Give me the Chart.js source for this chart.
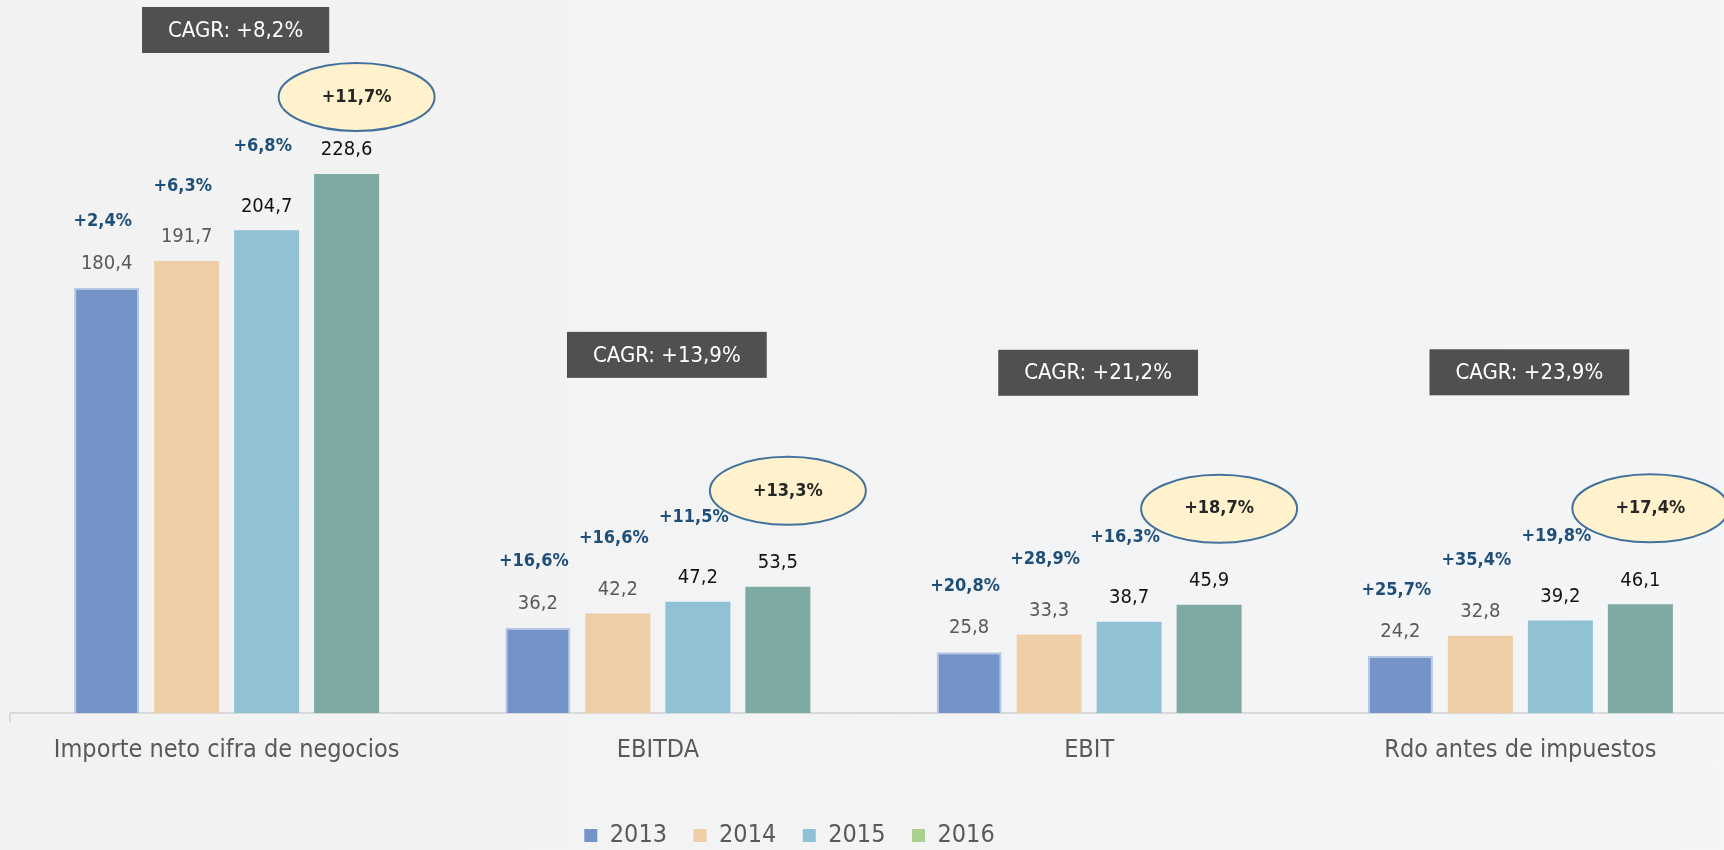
<!DOCTYPE html>
<html lang="es">
<head>
<meta charset="utf-8">
<title>Evolución 2013-2016</title>
<script src="https://cdn.jsdelivr.net/npm/chart.js@4"></script>
<style>
  html, body { margin: 0; padding: 0; overflow: hidden; }
  body { width: 1724px; height: 850px; background: linear-gradient(to right, #f2f2f2, #f4f5f7); }
  #wrap { position: relative; width: 1750px; height: 850px; }
</style>
</head>
<body>
<div id="wrap"><canvas id="chart"></canvas></div>
<script>
// Datos (millones de euros)
const categorias = ['Importe neto cifra de negocios', 'EBITDA', 'EBIT', 'Rdo antes de impuestos'];
const anios = ['2013', '2014', '2015', '2016'];
const valores2013 = [180.4, 36.2, 25.8, 24.2];
const valores2014 = [191.7, 42.2, 33.3, 32.8];
const valores2015 = [204.7, 47.2, 38.7, 39.2];
const valores2016 = [228.6, 53.5, 45.9, 46.1];

// Variación anual (%)
const crec2013 = [2.4, 16.6, 20.8, 25.7];
const crec2014 = [6.3, 16.6, 28.9, 35.4];
const crec2015 = [6.8, 11.5, 16.3, 19.8];
const crec2016 = [11.7, 13.3, 18.7, 17.4];
const cagr = [8.2, 13.9, 21.2, 23.9];

// Colores
const coloresBarra = ['#7493c6', '#eecea6', '#90c1d4', '#7fa9a3'];
const coloresLeyenda = ['#7493c6', '#eecea6', '#90c1d4', '#a9d18e'];
const coloresValor = ['#595959', '#595959', '#111111', '#111111'];
const FUENTE = "'DejaVu Sans Condensed', 'DejaVu Sans', sans-serif";

const fmt = (v) => v.toFixed(1).replace('.', ',');
const fmtPct = (v) => '+' + fmt(v) + '%';

const series = [valores2013, valores2014, valores2015, valores2016];
const crecimientos = [crec2013, crec2014, crec2015, crec2016];

// Mueve la leyenda para que quede bajo el centro del gráfico visible
const moverLeyenda = {
    id: 'moverLeyenda',
    afterLayout(chart) {
        const lg = chart.legend;
        lg.left -= 84;
        lg.right -= 84;
        lg.top += 9.5;
        lg.bottom += 9.5;
    }
};

// Etiquetas sobre las barras, óvalos y cajas CAGR
const anotaciones = {
    id: 'anotaciones',
    afterDatasetsDraw(chart) {
        const ctx = chart.ctx;
        const xScale = chart.scales.x;
        ctx.save();
        ctx.textAlign = 'center';
        ctx.textBaseline = 'middle';
        const subida = [66, 75, 84, 96];
        const ultima = chart.getDatasetMeta(3).data;

        // cajas CAGR
        const cajaY = categorias.map((c, j) => Math.max(30, ultima[j].y - 232));
        categorias.forEach((c, j) => {
            const cx = xScale.getPixelForValue(j) + 9;
            const cy = cajaY[j];
            const txt = 'CAGR: ' + fmtPct(cagr[j]);
            ctx.font = '22px ' + FUENTE;
            const w = ctx.measureText(txt).width + 52;
            ctx.fillStyle = '#505050';
            ctx.fillRect(cx - w / 2, cy - 23, w, 46);
            ctx.fillStyle = '#ffffff';
            ctx.fillText(txt, cx, cy + 1);
        });

        chart.data.datasets.forEach((ds, i) => {
            const meta = chart.getDatasetMeta(i);
            meta.data.forEach((bar, j) => {
                // valor
                ctx.font = '20px ' + FUENTE;
                ctx.fillStyle = coloresValor[i];
                ctx.fillText(fmt(ds.data[j]), bar.x, bar.y - 24);

                // crecimiento
                const txt = fmtPct(crecimientos[i][j]);
                if (i === 3) {
                    const cx = bar.x + 10;
                    const y = Math.max(cajaY[j] + 67, bar.y - subida[i]);
                    ctx.beginPath();
                    ctx.ellipse(cx, y, 78, 34, 0, 0, Math.PI * 2);
                    ctx.fillStyle = '#fff2cc';
                    ctx.fill();
                    ctx.lineWidth = 2;
                    ctx.strokeStyle = '#41719c';
                    ctx.stroke();
                    ctx.font = 'bold 18px ' + FUENTE;
                    ctx.fillStyle = '#262626';
                    ctx.fillText(txt, cx, y);
                } else {
                    ctx.font = 'bold 18px ' + FUENTE;
                    ctx.fillStyle = '#1f4e79';
                    ctx.fillText(txt, bar.x - 4, bar.y - subida[i]);
                }
            });
        });

        // pequeña marca del eje a la izquierda
        ctx.strokeStyle = '#d9d9d9';
        ctx.lineWidth = 2;
        ctx.beginPath();
        ctx.moveTo(chart.chartArea.left - 1, chart.chartArea.bottom);
        ctx.lineTo(chart.chartArea.left - 1, chart.chartArea.bottom + 9);
        ctx.stroke();
        ctx.restore();
    }
};

const initChart = () => {
    const ctx = document.getElementById('chart').getContext('2d');
    new Chart(ctx, {
        type: 'bar',
        data: {
            labels: categorias,
            datasets: series.map((s, i) => ({
                label: anios[i],
                data: s,
                backgroundColor: coloresBarra[i],
                borderColor: i === 0 ? '#b4c7e7' : coloresBarra[i],
                borderWidth: i === 0 ? 2 : 0,
                barPercentage: 0.8125,
                categoryPercentage: 0.742
            }))
        },
        options: {
            responsive: true,
            maintainAspectRatio: false,
            animation: false,
            layout: { padding: { left: 11, right: 14, top: 0, bottom: 1.5 } },
            plugins: {
                tooltip: { enabled: false },
                legend: {
                    position: 'bottom',
                    labels: {
                        boxWidth: 13,
                        boxHeight: 13,
                        padding: 26.5,
                        color: '#595959',
                        font: { size: 25, family: FUENTE },
                        generateLabels: (chart) => chart.data.datasets.map((ds, i) => ({
                            text: ds.label,
                            fillStyle: coloresLeyenda[i],
                            strokeStyle: coloresLeyenda[i],
                            fontColor: '#595959',
                            lineWidth: 0,
                            datasetIndex: i
                        }))
                    }
                }
            },
            scales: {
                x: {
                    grid: { display: false, drawTicks: false },
                    border: { display: true, color: '#d9d9d9', width: 2 },
                    ticks: {
                        padding: 22,
                        color: '#595959',
                        font: { size: 25, family: FUENTE }
                    }
                },
                y: {
                    display: false,
                    min: 0,
                    max: 302.4
                }
            }
        },
        plugins: [moverLeyenda, anotaciones]
    });
};

document.addEventListener('DOMContentLoaded', initChart);
</script>
</body>
</html>
